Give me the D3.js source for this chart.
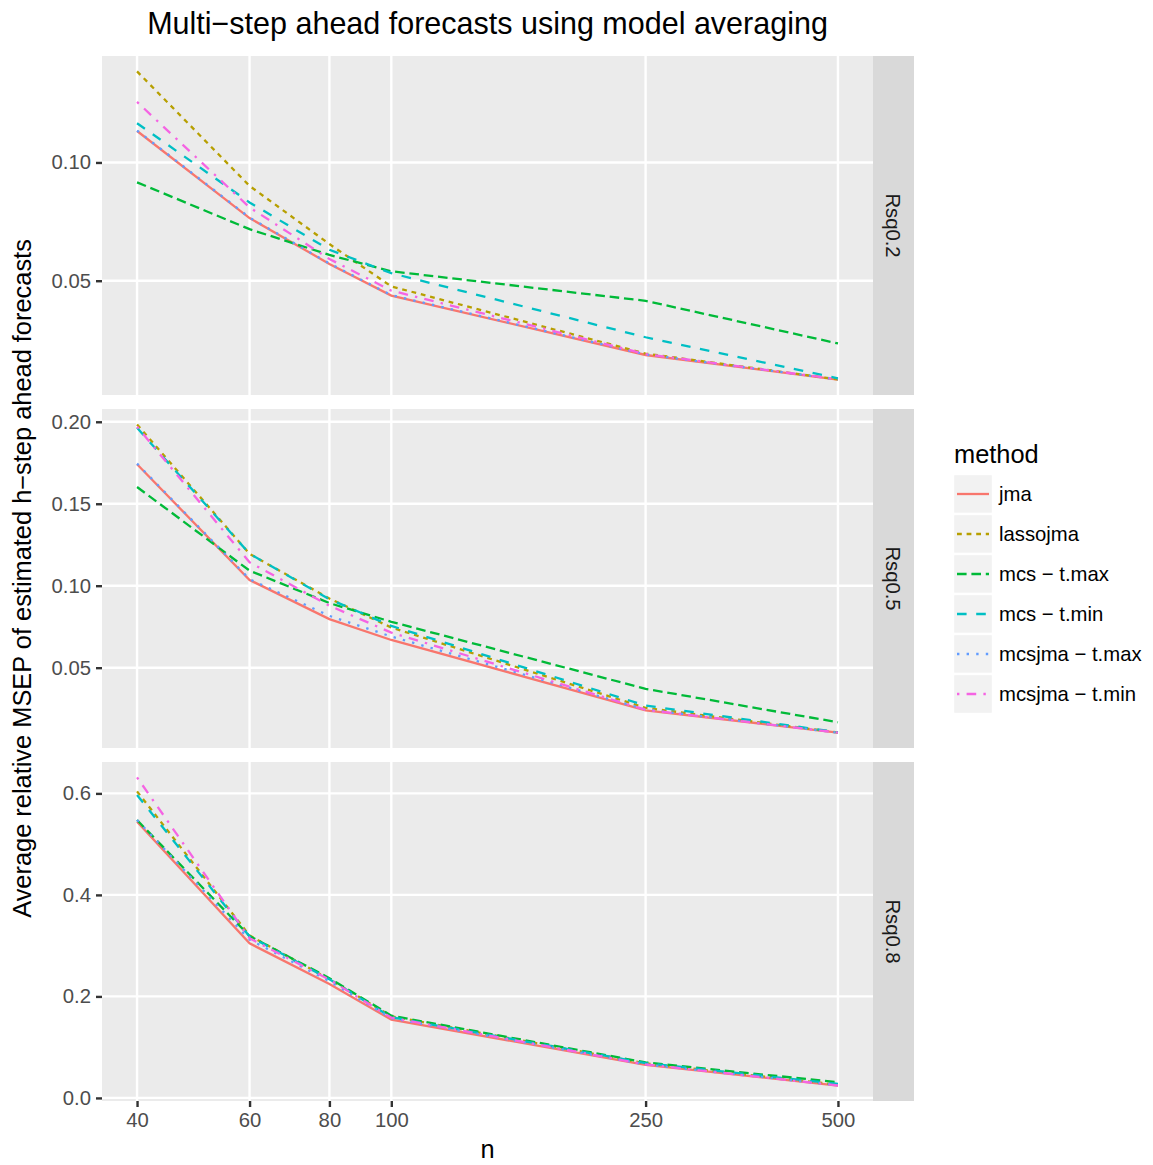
<!DOCTYPE html>
<html>
<head>
<meta charset="utf-8">
<script src="https://cdn.jsdelivr.net/npm/d3@7"></script>
<style>
  body { margin: 0; background: #fff; }
  svg { font-family: "Liberation Sans", Arial, Helvetica, sans-serif; }
</style>
</head>
<body>
<svg id="chart" width="1153" height="1165"></svg>
<script>
// sample sizes on the x axis
const nValues = [40, 60, 80, 100, 250, 500];

const methods = ["jma", "lassojma", "mcs \u2212 t.max", "mcs \u2212 t.min", "mcsjma \u2212 t.max", "mcsjma \u2212 t.min"];
const facets = ["Rsq0.2", "Rsq0.5", "Rsq0.8"];

// values, one array per method and facet
const rsq02 = [
  [0.1133, 0.0765, 0.0571, 0.0437, 0.0186, 0.0082],
  [0.1385, 0.0901, 0.0655, 0.0476, 0.0192, 0.0083],
  [0.0916, 0.0718, 0.0609, 0.0540, 0.0415, 0.0235],
  [0.1166, 0.0831, 0.0631, 0.0532, 0.0261, 0.0087],
  [0.1135, 0.0767, 0.0573, 0.0439, 0.0188, 0.0083],
  [0.1256, 0.0810, 0.0592, 0.0458, 0.0190, 0.0083]
];
const rsq05 = [
  [0.1741, 0.1035, 0.0796, 0.0669, 0.0240, 0.0104],
  [0.1984, 0.1194, 0.0922, 0.0745, 0.0255, 0.0105],
  [0.1602, 0.1092, 0.0894, 0.0780, 0.0371, 0.0167],
  [0.1963, 0.1195, 0.0918, 0.0755, 0.0269, 0.0106],
  [0.1745, 0.1040, 0.0816, 0.0690, 0.0245, 0.0104],
  [0.1970, 0.1143, 0.0878, 0.0714, 0.0243, 0.0104]
];
const rsq08 = [
  [0.5443, 0.3046, 0.2243, 0.1543, 0.0650, 0.0243],
  [0.6040, 0.3200, 0.2340, 0.1610, 0.0680, 0.0260],
  [0.5475, 0.3190, 0.2360, 0.1620, 0.0700, 0.0308],
  [0.5969, 0.3180, 0.2340, 0.1590, 0.0687, 0.0276],
  [0.5475, 0.3120, 0.2300, 0.1570, 0.0660, 0.0250],
  [0.6315, 0.3145, 0.2330, 0.1580, 0.0660, 0.0245]
];

const yTicks02 = [0.05, 0.10];
const yTicks05 = [0.05, 0.10, 0.15, 0.20];
const yTicks08 = [0.0, 0.2, 0.4, 0.6];

const colors = ["#F8766D", "#B79F00", "#00BA38", "#00BFC4", "#619CFF", "#F564E3"];
// ggplot linetypes: solid, 22, 42, 44, 13, 1343
const u = 2.4;
const dashes = [null, [2,2], [4,2], [4,4], [1,3], [1,3,4,3]].map(d => d ? d.map(v => v * u).join(",") : null);

const panelData = [
  { name: facets[0], values: rsq02, ticks: yTicks02, fmt: d3.format(".2f") },
  { name: facets[1], values: rsq05, ticks: yTicks05, fmt: d3.format(".2f") },
  { name: facets[2], values: rsq08, ticks: yTicks08, fmt: d3.format(".1f") }
];

const svg = d3.select("#chart");

let left = 102, right = 873, stripW = 41;
let panelTops = [56, 409, 762], panelH = 339;
let tickLen = 6, tickFont = 20.3, titleFont = 25.4;

// x is log scaled, expanded 5% as ggplot does
let lx = d3.extent(nValues).map(Math.log);
let rx = lx[1] - lx[0];
let x = d3.scaleLog()
  .domain([Math.exp(lx[0] - 0.05 * rx), Math.exp(lx[1] + 0.05 * rx)])
  .range([left, right]);

let line = d3.line();

panelData.forEach(function(p, i) {
  let top = panelTops[i], bottom = top + panelH;
  let ext = d3.extent(p.values.flat());
  let r = ext[1] - ext[0];
  let y = d3.scaleLinear()
    .domain([ext[0] - 0.05 * r, ext[1] + 0.05 * r])
    .range([bottom, top]);

  let g = svg.append("g");

  g.append("rect")
    .attr("x", left).attr("y", top)
    .attr("width", right - left).attr("height", panelH)
    .attr("fill", "#EBEBEB");

  g.selectAll(".gy").data(p.ticks).enter().append("line")
    .attr("x1", left).attr("x2", right)
    .attr("y1", d => y(d)).attr("y2", d => y(d))
    .attr("stroke", "#fff").attr("stroke-width", 2.4);

  g.selectAll(".gx").data(nValues).enter().append("line")
    .attr("y1", top).attr("y2", bottom)
    .attr("x1", d => x(d)).attr("x2", d => x(d))
    .attr("stroke", "#fff").attr("stroke-width", 2.4);

  // y axis
  let yAxis = d3.axisLeft(y).tickValues(p.ticks).tickFormat(p.fmt)
    .tickSize(tickLen).tickPadding(5);
  let ya = g.append("g").attr("transform", `translate(${left},0)`).call(yAxis);
  ya.select(".domain").remove();
  ya.selectAll(".tick line").attr("stroke", "#333333").attr("stroke-width", 2.4);
  ya.selectAll(".tick text").attr("fill", "#4D4D4D")
    .style("font-size", tickFont + "px").attr("font-family", null);

  // lines
  p.values.forEach(function(vals, m) {
    g.append("path")
      .attr("d", line(vals.map((v, k) => [x(nValues[k]), y(v)])))
      .attr("fill", "none")
      .attr("stroke", colors[m])
      .attr("stroke-width", 2.3)
      .attr("stroke-dasharray", dashes[m]);
  });

  // strip
  g.append("rect")
    .attr("x", right).attr("y", top)
    .attr("width", stripW).attr("height", panelH)
    .attr("fill", "#D9D9D9");
  g.append("text")
    .attr("transform", `translate(${right + stripW / 2},${top + panelH / 2}) rotate(90)`)
    .attr("text-anchor", "middle")
    .attr("dy", "0.35em")
    .attr("fill", "#1A1A1A")
    .style("font-size", tickFont + "px")
    .text(p.name);

  if (i === 2) {
    let xAxis = d3.axisBottom(x).tickValues(nValues).tickFormat(d3.format("d"))
      .tickSize(tickLen).tickPadding(6);
    let xa = g.append("g").attr("transform", `translate(0,${bottom})`).call(xAxis);
    xa.select(".domain").remove();
    xa.selectAll(".tick line").attr("stroke", "#333333").attr("stroke-width", 2.4);
    xa.selectAll(".tick text").attr("fill", "#4D4D4D")
      .style("font-size", tickFont + "px").attr("font-family", null);
  }
});

// titles
svg.append("text")
  .attr("x", (left + right) / 2).attr("y", 34)
  .attr("text-anchor", "middle")
  .style("font-size", "30.5px")
  .text("Multi\u2212step ahead forecasts using model averaging");

svg.append("text")
  .attr("x", (left + right) / 2).attr("y", 1158)
  .attr("text-anchor", "middle")
  .style("font-size", titleFont + "px")
  .text("n");

svg.append("text")
  .attr("transform", `translate(31,${(panelTops[0] + panelTops[2] + panelH) / 2}) rotate(-90)`)
  .attr("text-anchor", "middle")
  .style("font-size", titleFont + "px")
  .text("Average relative MSEP of estimated h\u2212step ahead forecasts");

// legend
let legend = svg.append("g").attr("transform", "translate(953,474)");
legend.append("text")
  .attr("x", 1).attr("y", -11)
  .style("font-size", titleFont + "px")
  .text("method");

let keys = legend.selectAll(".key").data(methods).enter().append("g")
  .attr("transform", (d, i) => `translate(0,${i * 40})`);
keys.append("rect")
  .attr("width", 40).attr("height", 40)
  .attr("fill", "#F2F2F2").attr("stroke", "#fff").attr("stroke-width", 2.4);
keys.append("line")
  .attr("x1", 4).attr("x2", 36).attr("y1", 20).attr("y2", 20)
  .attr("stroke", (d, i) => colors[i])
  .attr("stroke-width", 2.3)
  .attr("stroke-dasharray", (d, i) => dashes[i]);
keys.append("text")
  .attr("x", 46).attr("y", 20).attr("dy", "0.35em")
  .style("font-size", tickFont + "px")
  .text(d => d);
</script>
</body>
</html>
